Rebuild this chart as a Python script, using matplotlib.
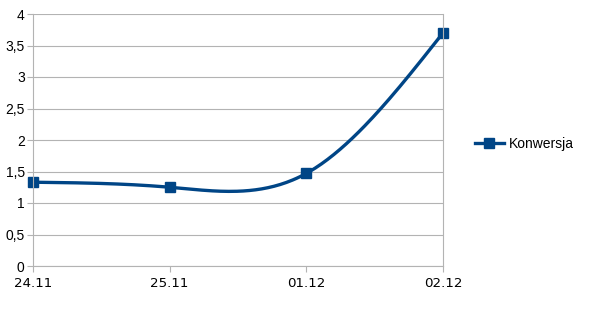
import numpy as np
import matplotlib
matplotlib.use("Agg")
from matplotlib import pyplot as plt
from matplotlib.ticker import FuncFormatter

labels = ["24.11", "25.11", "01.12", "02.12"]
konwersja = [1.33, 1.25, 1.47, 3.70]


def natural_spline(x, y, n=200):
    x = np.asarray(x, float)
    y = np.asarray(y, float)
    k = len(x)
    h = np.diff(x)
    A = np.zeros((k, k))
    b = np.zeros(k)
    A[0, 0] = A[-1, -1] = 1
    for i in range(1, k - 1):
        A[i, i - 1] = h[i - 1]
        A[i, i] = 2 * (h[i - 1] + h[i])
        A[i, i + 1] = h[i]
        b[i] = 6 * ((y[i + 1] - y[i]) / h[i] - (y[i] - y[i - 1]) / h[i - 1])
    M = np.linalg.solve(A, b)
    xs = np.linspace(x[0], x[-1], n)
    idx = np.clip(np.searchsorted(x, xs) - 1, 0, k - 2)
    x0, x1 = x[idx], x[idx + 1]
    hh = x1 - x0
    t0 = x1 - xs
    t1 = xs - x0
    ys = (M[idx] * t0**3 + M[idx + 1] * t1**3) / (6 * hh) \
        + (y[idx] / hh - M[idx] * hh / 6) * t0 \
        + (y[idx + 1] / hh - M[idx + 1] * hh / 6) * t1
    return xs, ys


plt.rcParams['font.family'] = ['Liberation Sans', 'DejaVu Sans']
plt.rcParams['font.size'] = 10

fig = plt.figure(figsize=(6.05, 3.10), dpi=100)
ax = fig.add_axes([33 / 605, 44 / 310, 410 / 605, 252 / 310])

color = "#004586"
xi = np.arange(len(labels))
xs, ys = natural_spline(xi, konwersja)
ax.plot(xs, ys, color=color, lw=2.4, solid_capstyle="round", clip_on=False)
ax.plot(xi, konwersja, ls="none", marker="s", ms=7, color=color, clip_on=False)
ax.plot([], [], color=color, lw=2.4, marker="s", ms=7, label="Konwersja")

ax.set_xlim(0, 3)
ax.set_ylim(0, 4)
ax.set_xticks(xi)
ax.set_xticklabels(labels, family="DejaVu Sans", fontsize=9.6)
ax.set_yticks(np.arange(0, 4.01, 0.5))
ax.yaxis.set_major_formatter(FuncFormatter(lambda v, p: f"{v:g}".replace(".", ",")))
ax.grid(axis="y", color="#b3b3b3", lw=0.8)
ax.set_axisbelow(True)
for s in ["left", "bottom", "right"]:
    ax.spines[s].set_color("#b3b3b3")
    ax.spines[s].set_linewidth(0.8)
ax.spines["top"].set_visible(False)
ax.tick_params(colors="#b3b3b3", length=4, width=0.8, labelcolor="black")
ax.tick_params(axis="x", pad=4)
ax.tick_params(axis="y", pad=2, labelsize=10)

fig.legend(loc="center left", bbox_to_anchor=(462 / 605, 1 - 144 / 310), frameon=False,
           handlelength=2.1, handletextpad=0.35, fontsize=10)

fig.savefig("out.png", dpi=100)
